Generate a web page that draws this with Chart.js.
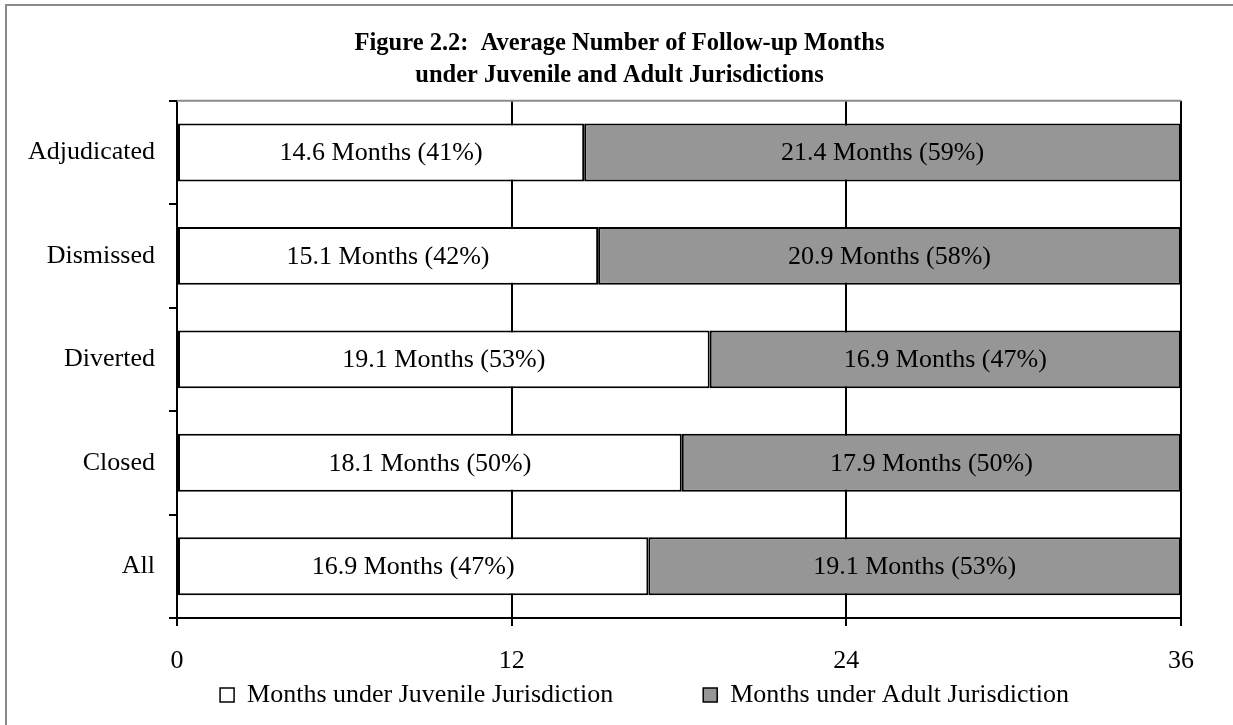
<!DOCTYPE html>
<html>
<head>
<meta charset="utf-8">
<script src="https://cdn.jsdelivr.net/npm/chart.js@4"></script>
<style>
    html, body { margin: 0; padding: 0; background: #fff; overflow: hidden; }
    #frame {
        position: absolute; left: 5px; top: 4px; width: 1300px; height: 800px;
        border-left: 2px solid #8a8a8a; border-top: 2px solid #8a8a8a;
    }
    #wrap { position: absolute; left: 0; top: 0; width: 1233px; height: 725px; }
</style>
</head>
<body>
<div id="frame"></div>
<div id="wrap"><canvas id="followUpChart"></canvas></div>
<script>
// Du lieu doc tu hinh
const categories = ["Adjudicated", "Dismissed", "Diverted", "Closed", "All"];
const juvenileMonths = [14.6, 15.1, 19.1, 18.1, 16.9];
const adultMonths = [21.4, 20.9, 16.9, 17.9, 19.1];
const xTicks = [0, 12, 24, 36];
const seriesNames = ["Months under Juvenile Jurisdiction", "Months under Adult Jurisdiction"];

const serif = "'Liberation Serif', 'Times New Roman', serif";
Chart.defaults.color = "#000";
Chart.defaults.font.family = serif;

const LEGEND_GAP = 90;   // khoang cach giua 2 muc chu thich
const LEGEND_SHIFT_X = 54;
const TITLE_SHIFT_X = 29;

// Nhan trong tung thanh: "14.6 Months (41%)"
const barLabels = {
    id: "barLabels",
    afterDatasetsDraw(chart) {
        const ctx = chart.ctx;
        ctx.save();
        ctx.font = "26px " + serif;
        ctx.fillStyle = "#000";
        ctx.textAlign = "center";
        ctx.textBaseline = "middle";
        chart.data.datasets.forEach((ds, di) => {
            chart.getDatasetMeta(di).data.forEach((bar, i) => {
                const total = juvenileMonths[i] + adultMonths[i];
                const pct = Math.round(ds.data[i] / total * 100);
                const cx = (bar.x + bar.base) / 2;
                ctx.fillText(ds.data[i].toFixed(1) + " Months (" + pct + "%)", cx, bar.y + 1);
            });
        });
        ctx.restore();
    }
};

// Duong vien tren cua vung ve
const topBorder = {
    id: "topBorder",
    beforeDatasetsDraw(chart) {
        const { ctx, chartArea } = chart;
        ctx.save();
        ctx.strokeStyle = "#8a8a8a";
        ctx.lineWidth = 2;
        ctx.beginPath();
        ctx.moveTo(chartArea.left, chartArea.top);
        ctx.lineTo(chartArea.right, chartArea.top);
        ctx.stroke();
        ctx.restore();
    }
};

// padding lon chi de gian ngang chu thich, bo phan padding doc thua
const boxTweak = {
    id: "boxTweak",
    beforeLayout(chart) {
        const legend = chart.legend;
        if (legend && !legend._tweaked) {
            legend._tweaked = true;
            const extra = LEGEND_GAP - 10;
            const fit = legend.fit;
            legend.fit = function () {
                fit.call(this);
                this.height -= extra;
            };
            const draw = legend.draw;
            legend.draw = function () {
                const { top, left, right } = this;
                this.top -= extra;
                this.left += LEGEND_SHIFT_X;
                this.right += LEGEND_SHIFT_X;
                draw.apply(this, arguments);
                this.top = top;
                this.left = left;
                this.right = right;
            };
        }
        const title = chart.titleBlock;
        if (title && !title._tweaked) {
            title._tweaked = true;
            const draw = title.draw;
            title.draw = function () {
                this.ctx.save();
                this.ctx.translate(TITLE_SHIFT_X, 0);
                draw.apply(this, arguments);
                this.ctx.restore();
            };
        }
    }
};

const ctx = document.getElementById("followUpChart").getContext("2d");
new Chart(ctx, {
    type: "bar",
    data: {
        labels: categories,
        datasets: [
            {
                label: seriesNames[0],
                data: juvenileMonths,
                backgroundColor: "#ffffff",
                borderColor: "#000",
                borderWidth: 2,
                borderSkipped: false
            },
            {
                label: seriesNames[1],
                data: adultMonths,
                backgroundColor: "#969696",
                borderColor: "#000",
                borderWidth: 2,
                borderSkipped: false
            }
        ]
    },
    options: {
        indexAxis: "y",
        responsive: true,
        maintainAspectRatio: false,
        animation: false,
        barPercentage: 0.56,
        categoryPercentage: 1,
        layout: { padding: { left: 0, right: 52, top: 0, bottom: 7 } },
        scales: {
            x: {
                stacked: true,
                min: 0,
                max: 36,
                afterBuildTicks: (scale) => { scale.ticks = xTicks.map(v => ({ value: v })); },
                afterFit: (scale) => { scale.height = 54; },
                ticks: { font: { size: 26 }, padding: 20, maxRotation: 0 },
                grid: { color: "#000", lineWidth: 2, tickLength: 8 },
                border: { color: "#000", width: 2 }
            },
            y: {
                stacked: true,
                afterFit: (scale) => { scale.width = 177; },
                ticks: { font: { size: 26 }, padding: 14 },
                grid: { offset: true, drawOnChartArea: false, color: "#000", lineWidth: 2, tickLength: 8 },
                border: { color: "#000", width: 2 }
            }
        },
        plugins: {
            title: {
                display: true,
                text: ["Figure 2.2:  Average Number of Follow-up Months", "under Juvenile and Adult Jurisdictions"],
                font: { size: 24.5, weight: "bold", lineHeight: 1.3 },
                padding: { top: 28, bottom: 9 }
            },
            legend: {
                position: "bottom",
                labels: {
                    font: { size: 26 },
                    boxWidth: 14,
                    boxHeight: 14,
                    padding: LEGEND_GAP,
                    generateLabels: (chart) => chart.data.datasets.map((ds, i) => ({
                        text: ds.label,
                        fillStyle: ds.backgroundColor,
                        strokeStyle: "#000",
                        lineWidth: 1.5,
                        datasetIndex: i
                    }))
                }
            },
            tooltip: { enabled: false }
        }
    },
    plugins: [barLabels, topBorder, boxTweak]
});
</script>
</body>
</html>
